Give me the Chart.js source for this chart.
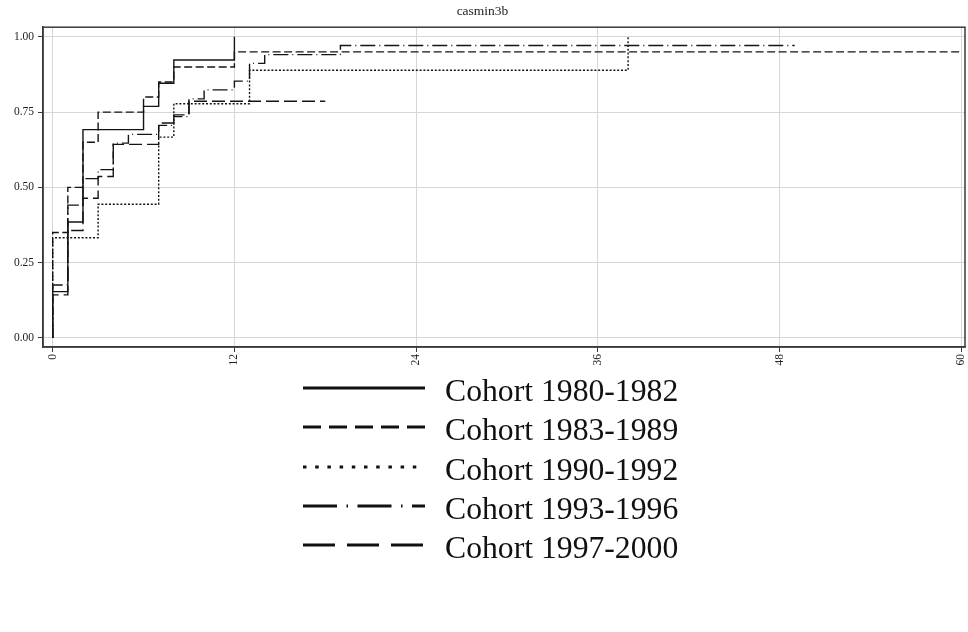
<!DOCTYPE html>
<html>
<head>
<meta charset="utf-8">
<script src="https://cdn.jsdelivr.net/npm/chart.js@4.4.1/dist/chart.umd.min.js"></script>
<style>
  html, body { margin: 0; padding: 0; background: #fff; }
  #wrap { position: relative; width: 968px; height: 632px; overflow: hidden; }
  #kmChart { position: absolute; left: 0; top: 0; }
  .legend-row { position: absolute; left: 303px; height: 40px; display: flex; align-items: center; }
  .legend-row svg { display: block; }
  .legend-row span {
    font-family: "Liberation Serif", "Times New Roman", serif;
    font-size: 31.7px; color: #111; margin-left: 20px; padding-top: 6px; white-space: nowrap;
  }
</style>
</head>
<body>
<div id="wrap">
  <canvas id="kmChart" width="968" height="380"></canvas>
  <div id="legend"></div>
</div>
<script>
// cohorts and Kaplan-Meier style step values (months since start)
const cohortLabels = ['Cohort 1980-1982', 'Cohort 1983-1989', 'Cohort 1990-1992', 'Cohort 1993-1996', 'Cohort 1997-2000'];

const months1980 = [0, 0, 1, 2, 6, 7, 8, 12];
const surv1980   = [0, 0.154, 0.385, 0.692, 0.769, 0.846, 0.923, 1.0];

const months1983 = [0, 0, 1, 2, 3, 6, 7, 8, 12, 60];
const surv1983   = [0, 0.35, 0.50, 0.65, 0.75, 0.80, 0.85, 0.90, 0.95, 0.95];

const months1990 = [0, 0, 3, 7, 8, 13, 38];
const surv1990   = [0, 0.333, 0.444, 0.667, 0.778, 0.889, 1.0];

const months1993 = [0, 0, 1, 2, 3, 4, 5, 7, 8, 9, 10, 12, 13, 14, 19, 49];
const surv1993   = [0, 0.176, 0.441, 0.529, 0.559, 0.647, 0.676, 0.706, 0.735, 0.794, 0.824, 0.853, 0.912, 0.941, 0.971, 0.971];

const months1997 = [0, 0, 1, 2, 3, 4, 7, 8, 9, 18];
const surv1997   = [0, 0.143, 0.357, 0.464, 0.536, 0.643, 0.714, 0.741, 0.786, 0.786];

const xTickStep = 12;
const yTickStep = 0.25;

// line styles (plot / legend)
const plotDash   = [[], [8, 3.5], [2, 1.8], [15, 4, 1, 4], [13, 5]];
const legendDash = [[], [18, 8], [3.5, 8.7], [34, 9.5, 1.5, 9.5], [32, 12]];

function zip(xs, ys) {
    return xs.map((x, i) => ({ x: x, y: ys[i] }));
}

const seriesData = [
    zip(months1980, surv1980),
    zip(months1983, surv1983),
    zip(months1990, surv1990),
    zip(months1993, surv1993),
    zip(months1997, surv1997)
];

const serif = '"Liberation Serif", "Times New Roman", serif';

const frame = {
    id: 'frame',
    afterDraw(chart) {
        const a = chart.chartArea;
        const c = chart.ctx;
        c.save();
        c.strokeStyle = '#3a3a3a';
        c.lineWidth = 1.5;
        c.setLineDash([]);
        c.strokeRect(a.left, a.top, a.right - a.left, a.bottom - a.top);
        c.restore();
    }
};

const ctx = document.getElementById('kmChart').getContext('2d');
const kmChart = new Chart(ctx, {
    type: 'line',
    data: {
        datasets: seriesData.map((d, i) => ({
            label: cohortLabels[i],
            data: d,
            borderColor: '#141414',
            borderWidth: 1.4,
            borderDash: plotDash[i],
            borderCapStyle: 'butt',
            stepped: 'before',
            pointRadius: 0,
            fill: false
        }))
    },
    options: {
        responsive: false,
        animation: false,
        layout: { padding: { left: 0, right: 3, top: 0, bottom: 0 } },
        plugins: {
            legend: { display: false },
            tooltip: { enabled: false },
            title: {
                display: true,
                text: 'casmin3b',
                color: '#222',
                font: { family: serif, size: 13.5, weight: 'normal' },
                padding: { top: 3, bottom: 8 }
            }
        },
        scales: {
            x: {
                type: 'linear',
                min: -0.64,
                max: 60.25,
                afterFit: s => { s.height = 33; s.paddingLeft = 0; s.paddingRight = 0; },
                border: { display: true, color: '#3a3a3a', width: 1.5 },
                grid: { color: '#d6d6d6', lineWidth: 1, tickColor: '#3a3a3a', tickLength: 5 },
                ticks: {
                    stepSize: xTickStep,
                    includeBounds: false,
                    minRotation: 90,
                    maxRotation: 90,
                    padding: 2,
                    color: '#222',
                    font: { family: serif, size: 11.5 }
                }
            },
            y: {
                min: -0.03,
                max: 1.032,
                afterFit: s => { s.width = 43; },
                border: { display: true, color: '#3a3a3a', width: 1.5 },
                grid: { color: '#d6d6d6', lineWidth: 1, tickColor: '#3a3a3a', tickLength: 5 },
                ticks: {
                    stepSize: yTickStep,
                    includeBounds: false,
                    padding: 4,
                    color: '#222',
                    font: { family: serif, size: 11.5 },
                    callback: v => v.toFixed(2)
                }
            }
        }
    },
    plugins: [frame]
});

// legend below the plot, one entry per row
const legendBox = document.getElementById('legend');
cohortLabels.forEach((name, i) => {
    const lineY = 388 + i * 39.3;
    const row = document.createElement('div');
    row.className = 'legend-row';
    row.style.top = (lineY - 20) + 'px';
    const dash = legendDash[i].length ? legendDash[i].join(' ') : 'none';
    row.innerHTML = '<svg width="122" height="8"><line x1="0" y1="4" x2="122" y2="4" stroke="#111" stroke-width="3" stroke-dasharray="' + dash + '"/></svg>';
    const label = document.createElement('span');
    label.textContent = name;
    row.appendChild(label);
    legendBox.appendChild(row);
});
</script>
</body>
</html>
